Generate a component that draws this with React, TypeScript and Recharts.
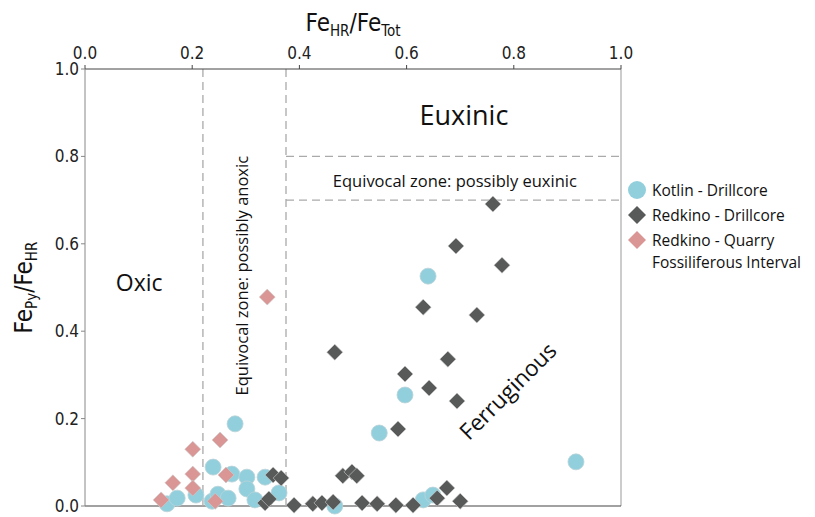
import React from 'react';
import {
  ScatterChart,
  Scatter,
  XAxis,
  YAxis,
  ReferenceLine,
  ReferenceDot,
  Label,
} from 'recharts';

const kotlinX = [0.153, 0.172, 0.207, 0.239, 0.237, 0.248, 0.267, 0.28, 0.274, 0.302, 0.336, 0.302, 0.317, 0.362, 0.466, 0.549, 0.597, 0.631, 0.649, 0.64, 0.916];
const kotlinY = [0.005, 0.018, 0.025, 0.089, 0.011, 0.027, 0.018, 0.188, 0.073, 0.066, 0.066, 0.039, 0.014, 0.03, 0.0, 0.167, 0.254, 0.014, 0.025, 0.526, 0.101];

const drillX = [0.336, 0.343, 0.351, 0.366, 0.39, 0.425, 0.442, 0.463, 0.481, 0.498, 0.507, 0.517, 0.545, 0.58, 0.612, 0.657, 0.675, 0.7, 0.761, 0.692, 0.778, 0.631, 0.731, 0.466, 0.677, 0.597, 0.642, 0.694, 0.584];
const drillY = [0.007, 0.016, 0.071, 0.064, 0.002, 0.005, 0.007, 0.009, 0.069, 0.078, 0.069, 0.007, 0.005, 0.002, 0.002, 0.018, 0.041, 0.011, 0.691, 0.595, 0.551, 0.455, 0.437, 0.352, 0.336, 0.302, 0.27, 0.24, 0.176];

const quarryX = [0.142, 0.164, 0.201, 0.201, 0.201, 0.243, 0.252, 0.263, 0.34];
const quarryY = [0.014, 0.053, 0.13, 0.073, 0.041, 0.011, 0.151, 0.071, 0.478];

const ticks = [0, 0.2, 0.4, 0.6, 0.8, 1.0];

const toPoints = (xs: number[], ys: number[]) => xs.map((x, i) => ({ x, y: ys[i] }));
const kotlin = toPoints(kotlinX, kotlinY);
const drill = toPoints(drillX, drillY);
const quarry = toPoints(quarryX, quarryY);

const narrow = '"Liberation Sans Narrow", "DejaVu Sans Condensed", "Open Sans", sans-serif';
const sans = '"Open Sans", "Noto Sans", sans-serif';

const BLUE = '#92cfdd';
const DARK = '#585a5a';
const PINK = '#d99694';
const DASH = '#aaaaaa';

const Circle = (p: any) => <circle cx={p.cx} cy={p.cy} r={8} fill={BLUE} stroke="#b9d3d8" strokeWidth={0.8} />;
const Diamond = (color: string) => (p: any) => (
  <path d={`M${p.cx},${p.cy - 8}L${p.cx + 8},${p.cy}L${p.cx},${p.cy + 8}L${p.cx - 8},${p.cy}Z`} fill={color} stroke="#cccccc" strokeWidth={0.6} />
);

const note = (value: string, size: number, angle = 0) => ({
  value,
  position: 'center' as const,
  angle,
  fontSize: size,
  fill: '#111',
  fontFamily: sans,
});

const XTitle = ({ viewBox }: any) => (
  <text x={viewBox.x + viewBox.width / 2} y={viewBox.y - 8} textAnchor="middle" fontFamily={narrow} fontSize={24} fill="#111">
    Fe<tspan fontSize={15} dy={5}>HR</tspan><tspan dy={-5}>/Fe</tspan><tspan fontSize={15} dy={5}>Tot</tspan>
  </text>
);

const YTitle = ({ viewBox }: any) => {
  const cx = 32;
  const cy = viewBox.y + viewBox.height / 2;
  return (
    <text x={cx} y={cy} transform={`rotate(-90 ${cx} ${cy})`} textAnchor="middle" fontFamily={narrow} fontSize={24} fill="#111">
      Fe<tspan fontSize={15} dy={5}>Py</tspan><tspan dy={-5}>/Fe</tspan><tspan fontSize={15} dy={5}>HR</tspan>
    </text>
  );
};

const legendItems = [
  { label: ['Kotlin - Drillcore'], color: BLUE, round: true },
  { label: ['Redkino - Drillcore'], color: DARK, round: false },
  { label: ['Redkino - Quarry', 'Fossiliferous Interval'], color: PINK, round: false },
];

export default function App() {
  return (
    <div style={{ position: 'absolute', left: 0, top: 0, width: 815, height: 517, background: '#fff' }}>
      <ScatterChart width={815} height={517} margin={{ top: 39, right: 194, bottom: 11, left: 45 }}>
        <XAxis
          type="number"
          dataKey="x"
          orientation="top"
          domain={[0, 1]}
          ticks={ticks}
          tickFormatter={(v: number) => v.toFixed(1)}
          height={30}
          stroke="#444"
          tickSize={4}
          tickMargin={6}
          tick={{ fontSize: 17, fill: '#222', fontFamily: narrow }}
        >
          <Label content={<XTitle />} />
        </XAxis>
        <YAxis
          type="number"
          dataKey="y"
          domain={[0, 1]}
          ticks={ticks}
          tickFormatter={(v: number) => v.toFixed(1)}
          width={40}
          stroke="#888"
          tickSize={4}
          tick={{ fontSize: 17, fill: '#222', fontFamily: narrow }}
        >
          <Label content={<YTitle />} />
        </YAxis>
        <ReferenceLine x={1} stroke="#999" />
        <ReferenceLine y={0} stroke="#444" strokeWidth={1.2} />
        <ReferenceLine x={0.22} stroke={DASH} strokeDasharray="8 5" strokeWidth={1.3} />
        <ReferenceLine x={0.375} stroke={DASH} strokeDasharray="8 5" strokeWidth={1.3} />
        <ReferenceLine segment={[{ x: 0.375, y: 0.8 }, { x: 1, y: 0.8 }]} stroke={DASH} strokeDasharray="8 5" strokeWidth={1.3} />
        <ReferenceLine segment={[{ x: 0.375, y: 0.7 }, { x: 1, y: 0.7 }]} stroke={DASH} strokeDasharray="8 5" strokeWidth={1.3} />
        <ReferenceDot x={0.707} y={0.894} r={0} stroke="none" fill="none" label={note('Euxinic', 27)} />
        <ReferenceDot x={0.101} y={0.51} r={0} stroke="none" fill="none" label={note('Oxic', 23)} />
        <ReferenceDot x={0.69} y={0.744} r={0} stroke="none" fill="none" label={note('Equivocal zone: possibly euxinic', 16.5)} />
        <ReferenceDot x={0.293} y={0.527} r={0} stroke="none" fill="none" label={note('Equivocal zone: possibly anoxic', 16.5, -90)} />
        <ReferenceDot x={0.789} y={0.263} r={0} stroke="none" fill="none" label={note('Ferruginous', 22.5, -45)} />
        <Scatter name="Kotlin - Drillcore" data={kotlin} shape={Circle} isAnimationActive={false} />
        <Scatter name="Redkino - Drillcore" data={drill} shape={Diamond(DARK)} isAnimationActive={false} />
        <Scatter name="Redkino - Quarry Fossiliferous Interval" data={quarry} shape={Diamond(PINK)} isAnimationActive={false} />
      </ScatterChart>
      <div style={{ position: 'absolute', left: 627, top: 179, fontFamily: sans, fontSize: 15.5, color: '#111', lineHeight: '22px' }}>
        {legendItems.map((it) => (
          <div key={it.label[0]} style={{ display: 'flex', alignItems: 'flex-start', marginBottom: 3 }}>
            <svg width={21} height={22} style={{ flex: 'none', marginRight: 4 }}>
              {it.round ? (
                <circle cx={10} cy={11} r={9} fill={it.color} />
              ) : (
                <path d="M10,2L19,11L10,20L1,11Z" fill={it.color} />
              )}
            </svg>
            <div>
              {it.label.map((l) => (
                <div key={l}>{l}</div>
              ))}
            </div>
          </div>
        ))}
      </div>
    </div>
  );
}
